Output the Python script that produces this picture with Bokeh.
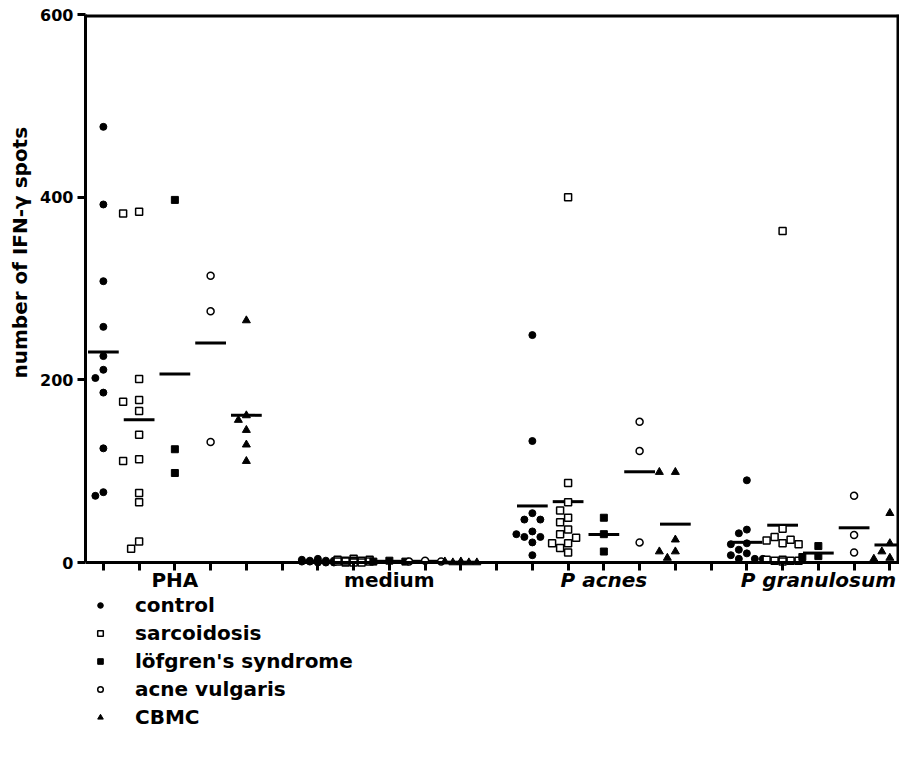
import numpy as np
from bokeh.plotting import figure
from bokeh.models import FixedTicker, Label, Legend, LegendItem, Range1d, Title
from bokeh.embed import file_html
from bokeh.resources import INLINE

# ---------------- data ----------------
stimuli = ["PHA", "medium", "P acnes", "P granulosum"]
groups = ["control", "sarcoidosis", "löfgren's syndrome", "acne vulgaris", "CBMC"]

control_pha = [477, 392, 308, 258, 226, 211, 202, 186, 125, 73, 77]
control_medium = [4, 3, 2, 2, 1, 1, 1, 0, 0, 0, 2]
control_pacnes = [249, 133, 54, 47, 47, 34, 31, 28, 28, 22, 8]
control_pgran = [90, 36, 32, 21, 20, 14, 10, 8, 4, 4, 4]

sarcoidosis_pha = [384, 382, 201, 178, 176, 166, 140, 111, 113, 76, 66, 15, 23]
sarcoidosis_medium = [4, 3, 3, 2, 2, 2, 1, 1, 1, 0, 0, 0, 1]
sarcoidosis_pacnes = [400, 87, 66, 57, 49, 44, 36, 31, 27, 21, 21, 16, 11]
sarcoidosis_pgran = [363, 37, 28, 25, 24, 21, 20, 3, 2, 2, 1, 3, 2]

lofgren_pha = [397, 124, 98]
lofgren_medium = [2, 1, 1]
lofgren_pacnes = [49, 31, 12]
lofgren_pgran = [18, 7, 6]

acne_pha = [314, 275, 132]
acne_medium = [1, 2, 1]
acne_pacnes = [154, 122, 22]
acne_pgran = [73, 30, 11]

cbmc_pha = [265, 161, 156, 145, 129, 111]
cbmc_medium = [0, 1, 0, 0, 1, 0]
cbmc_pacnes = [99, 99, 25, 12, 12, 5]
cbmc_pgran = [54, 21, 12, 4, 5]

y_ticks = [0, 200, 400, 600]
y_title = "number of IFN-γ spots"

series = [
    [control_pha, control_medium, control_pacnes, control_pgran],
    [sarcoidosis_pha, sarcoidosis_medium, sarcoidosis_pacnes, sarcoidosis_pgran],
    [lofgren_pha, lofgren_medium, lofgren_pacnes, lofgren_pgran],
    [acne_pha, acne_medium, acne_pacnes, acne_pgran],
    [cbmc_pha, cbmc_medium, cbmc_pacnes, cbmc_pgran],
]

# ---------------- layout ----------------
W, H = 899, 762
BL, BT, BB, BR = 85, 14, 0, 0
X0, X1 = 0.5, 23.27
YMAX = 600
PX_PER_Y = 548 / 600                  # axis 0..600 spans 548 px
FRAME_H = H - BT - BB
YMIN = YMAX - FRAME_H / PX_PER_Y      # extra room below the x axis
xs = (W - BL - BR) / (X1 - X0)        # px per x unit
ys = PX_PER_Y

FONT = "DejaVu Sans"

p = figure(width=W, height=H, output_backend="svg", toolbar_location=None,
           x_range=Range1d(X0, X1), y_range=Range1d(YMIN, YMAX),
           min_border_left=BL, min_border_right=BR, min_border_top=BT,
           min_border_bottom=BB)
p.grid.visible = False
p.outline_line_color = None
p.background_fill_color = "white"

# top and right frame lines (plot box above the x axis)
p.segment(x0=[X0, X1], x1=[X1, X1], y0=[YMAX, 0], y1=[YMAX, YMAX],
          line_color="black", line_width=6)


def swarm(vals, step_px=8.0, d_px=8.5, kmax=2):
    vals = np.asarray(vals, dtype=float)
    order = np.argsort(-vals, kind="stable")
    cands = [0]
    for k in range(1, kmax + 1):
        cands += [-k, k]
    placed = []
    offs = np.zeros(len(vals))
    for i in order:
        v = vals[i]
        best, bestd = 0, -1.0
        for k in cands:
            dx = k * step_px
            dmin = min([np.hypot(dx - px, (v - pv) * ys) for px, pv in placed], default=1e9)
            if dmin >= d_px:
                best = k
                break
            if dmin > bestd:
                best, bestd = k, dmin
        offs[i] = best * step_px
        placed.append((best * step_px, v))
    return offs / xs


styles = [
    dict(marker="circle", size=7, fill_color="black", line_color="black", line_width=1),
    dict(marker="square", size=7, fill_color="white", line_color="black", line_width=1.5),
    dict(marker="square", size=7, fill_color="black", line_color="black", line_width=1),
    dict(marker="circle", size=7, fill_color="white", line_color="black", line_width=1.5),
    dict(marker="triangle", size=8, fill_color="black", line_color="black", line_width=1),
]

items = []
for g, (name, sets) in enumerate(zip(groups, series)):
    xx, yy = [], []
    mx0, mx1, my = [], [], []
    for s, vals in enumerate(sets):
        pos = s * 6 + g + 1
        offs = swarm(vals)
        xx += list(pos + offs)
        yy += list(vals)
        mx0.append(pos - 0.43)
        mx1.append(pos + 0.43)
        my.append(float(np.mean(vals)))
    p.segment(x0=mx0, x1=mx1, y0=my, y1=my, line_color="black", line_width=3)
    r = p.scatter(x=xx, y=yy, **styles[g])
    items.append(LegendItem(label=name, renderers=[r]))

# ---------------- axes ----------------
ya = p.yaxis[0]
ya.ticker = FixedTicker(ticks=y_ticks, minor_ticks=[])
ya.bounds = (0, YMAX)
ya.major_label_text_font = FONT
ya.major_label_text_font_style = "bold"
ya.major_label_text_font_size = "16px"
ya.major_label_text_color = "black"
ya.major_label_standoff = 4
ya.axis_line_width = 3
ya.axis_line_color = "black"
ya.major_tick_line_width = 3
ya.major_tick_line_color = "black"
ya.major_tick_out = 8
ya.major_tick_in = 0
ya.minor_tick_line_color = None

# y-axis title (placed along the axis, as in the reference)
p.add_layout(Title(text=y_title, align="left", offset=H - BB - 378,
                   vertical_align="middle", standoff=10, text_font=FONT,
                   text_font_style="bold", text_font_size="20px",
                   text_color="black"), "left")

xa = p.xaxis[0]
xa.fixed_location = 0
xa.bounds = (X0, X1)
xa.ticker = FixedTicker(ticks=list(range(1, 24)), minor_ticks=[])
xa.major_label_overrides = {i: "" for i in range(1, 24)}
xa.axis_line_width = 3
xa.axis_line_color = "black"
xa.major_tick_line_width = 3
xa.major_tick_line_color = "black"
xa.major_tick_out = 8
xa.major_tick_in = 0
xa.minor_tick_line_color = None

for s, name in enumerate(stimuli):
    italic = name.startswith("P ")
    p.add_layout(Label(x=s * 6 + 3, y=-19.5, text=name, text_align="center",
                       text_baseline="middle", text_font=FONT,
                       text_font_style="bold italic" if italic else "bold",
                       text_font_size="20px", text_color="black"))

legend = Legend(items=items, location=(0, 33), orientation="vertical",
                label_text_font=FONT, label_text_font_style="bold",
                label_text_font_size="20px", label_text_color="black",
                glyph_width=30, glyph_height=14, label_height=20,
                label_standoff=20, spacing=4, padding=0, margin=0,
                border_line_color=None, background_fill_alpha=0)
p.add_layout(legend)

open("out.html", "w").write(file_html(p, INLINE))
